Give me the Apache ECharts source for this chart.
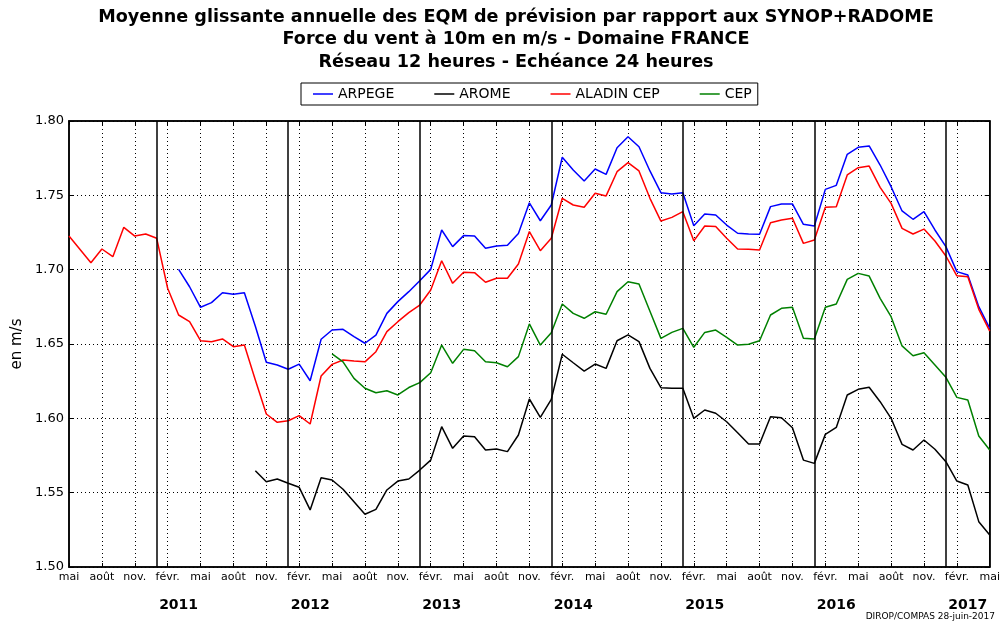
<!DOCTYPE html>
<html>
<head>
<meta charset="utf-8">
<script src="https://cdn.jsdelivr.net/npm/echarts@6/dist/echarts.min.js"></script>
<style>
html,body{margin:0;padding:0;background:#fff;}
#chart{width:1003px;height:623px;}
</style>
</head>
<body>
<div id="chart"></div>
<script>
// Months from mai 2010 (index 0) to mai 2017 (index 84)
const START_YEAR = 2010;
const START_MONTH = 4; // 0 = janvier
const N_MONTHS = 85;
const MONTH_TICK_LABELS = {1: 'févr.', 4: 'mai', 7: 'août', 10: 'nov.'};
const YEAR_LABELS = ['2011', '2012', '2013', '2014', '2015', '2016', '2017'];
const Y_TICKS = [1.50, 1.55, 1.60, 1.65, 1.70, 1.75, 1.80];

const ARPEGE = [null, null, null, null, null, null, null, null, null, null,
  1.7002, 1.6885, 1.6747, 1.6778, 1.6845, 1.6834, 1.6845, 1.6620, 1.6377, 1.6359,
  1.6330, 1.6365, 1.6253, 1.6532, 1.6594, 1.6599, 1.6550, 1.6505, 1.6560, 1.6706,
  1.6785, 1.6852, 1.6926, 1.7002, 1.7267, 1.7155, 1.7229, 1.7226, 1.7144, 1.7159,
  1.7164, 1.7244, 1.7450, 1.7329, 1.7435, 1.7756, 1.7670, 1.7596, 1.7677, 1.7641,
  1.7820, 1.7894, 1.7827, 1.7664, 1.7518, 1.7509, 1.7518, 1.7296, 1.7374, 1.7368,
  1.7300, 1.7245, 1.7240, 1.7238, 1.7424, 1.7442, 1.7442, 1.7305, 1.7294, 1.7540,
  1.7567, 1.7776, 1.7823, 1.7832, 1.7704, 1.7558, 1.7395, 1.7339, 1.7390, 1.7267,
  1.7155, 1.6987, 1.6964, 1.6751, 1.6605];

const AROME = [null, null, null, null, null, null, null, null, null, null,
  null, null, null, null, null, null, null, 1.5648, 1.5574, 1.5592,
  1.5563, 1.5536, 1.5384, 1.5601, 1.5585, 1.5523, 1.5439, 1.5355, 1.5388, 1.5518,
  1.5578, 1.5592, 1.5652, 1.5719, 1.5944, 1.5798, 1.5881, 1.5876, 1.5787, 1.5794,
  1.5776, 1.5888, 1.6130, 1.6007, 1.6128, 1.6431, 1.6374, 1.6318, 1.6365, 1.6336,
  1.6522, 1.6561, 1.6516, 1.6336, 1.6206, 1.6202, 1.6202, 1.6000, 1.6056, 1.6034,
  1.5977, 1.5903, 1.5827, 1.5827, 1.6011, 1.6004, 1.5937, 1.5719, 1.5697, 1.5892,
  1.5939, 1.6157, 1.6195, 1.6209, 1.6112, 1.6000, 1.5825, 1.5787, 1.5854, 1.5792,
  1.5708, 1.5578, 1.5552, 1.5305, 1.5215];

const ALADIN_CEP = [1.7226, null, 1.7047, 1.7139, 1.7087, 1.7285, 1.7226, 1.7240, 1.7211, 1.6875,
  1.6695, 1.6650, 1.6522, 1.6515, 1.6534, 1.6482, 1.6493, 1.6258, 1.6029, 1.5973,
  1.5984, 1.6018, 1.5962, 1.6285, 1.6363, 1.6392, 1.6385, 1.6380, 1.6448, 1.6583,
  1.6650, 1.6711, 1.6762, 1.6863, 1.7060, 1.6908, 1.6982, 1.6980, 1.6915, 1.6942,
  1.6942, 1.7038, 1.7256, 1.7128, 1.7211, 1.7480, 1.7435, 1.7420, 1.7514, 1.7496,
  1.7659, 1.7720, 1.7664, 1.7480, 1.7327, 1.7352, 1.7390, 1.7194, 1.7294, 1.7290,
  1.7211, 1.7139, 1.7137, 1.7132, 1.7316, 1.7334, 1.7346, 1.7177, 1.7200, 1.7420,
  1.7424, 1.7637, 1.7686, 1.7697, 1.7554, 1.7446, 1.7278, 1.7240, 1.7273, 1.7193,
  1.7092, 1.6959, 1.6953, 1.6733, 1.6587];

const CEP = [null, null, null, null, null, null, null, null, null, null,
  null, null, null, null, null, null, null, null, null, null,
  null, null, null, null, 1.6433, 1.6380, 1.6269, 1.6202, 1.6172, 1.6186,
  1.6157, 1.6207, 1.6240, 1.6307, 1.6493, 1.6370, 1.6464, 1.6455, 1.6380, 1.6374,
  1.6347, 1.6415, 1.6635, 1.6493, 1.6576, 1.6769, 1.6706, 1.6673, 1.6717, 1.6700,
  1.6852, 1.6919, 1.6904, 1.6720, 1.6538, 1.6578, 1.6605, 1.6478, 1.6578, 1.6594,
  1.6545, 1.6493, 1.6498, 1.6522, 1.6695, 1.6740, 1.6747, 1.6538, 1.6534, 1.6747,
  1.6769, 1.6935, 1.6975, 1.6957, 1.6807, 1.6684, 1.6487, 1.6421, 1.6441, 1.6359,
  1.6276, 1.6141, 1.6123, 1.5881, 1.5787];

// category keys "YYYY-MM"
const categories = [];
const monthOf = [];
const yearOf = [];
for (let i = 0; i < N_MONTHS; i++) {
  const m = (START_MONTH + i) % 12;
  const y = START_YEAR + Math.floor((START_MONTH + i) / 12);
  monthOf.push(m); yearOf.push(y);
  categories.push(y + '-' + String(m + 1).padStart(2, '0'));
}
const januaryCats = categories.filter((c, i) => monthOf[i] === 0);

const FONT = 'DejaVu Sans';
const chart = echarts.init(document.getElementById('chart'), null, {renderer: 'canvas'});

const dotted = {type: [1, 3], color: '#000', width: 1};

const lineSeries = (name, data, color, extra) => Object.assign({
  name: name, type: 'line', data: data, xAxisIndex: 0, yAxisIndex: 0,
  showSymbol: false, symbol: 'none', connectNulls: true,
  lineStyle: {color: color, width: 1.5}, itemStyle: {color: color},
  emphasis: {disabled: true}, animation: false, z: 3
}, extra || {});

chart.setOption({
  animation: false,
  backgroundColor: '#fff',
  title: {
    text: 'Moyenne glissante annuelle des EQM de prévision par rapport aux SYNOP+RADOME\nForce du vent à 10m en m/s - Domaine FRANCE\nRéseau 12 heures - Echéance 24 heures',
    left: 511, top: 1, textAlign: 'center',
    textStyle: {fontFamily: FONT, fontWeight: 'bold', fontSize: 17.6, lineHeight: 22.5, color: '#000', align: 'center'}
  },
  legend: {
    left: 301, top: 83,
    data: ['ARPEGE', 'AROME', 'ALADIN CEP', 'CEP'],
    icon: 'rect', itemWidth: 20, itemHeight: 1.5, itemGap: 40,
    padding: [4, 6, 4, 12],
    borderColor: '#000', borderWidth: 1, borderRadius: 0,
    textStyle: {fontFamily: FONT, fontSize: 14, color: '#000'},
    selectedMode: false
  },
  grid: {left: 69, right: 8, top: 121, bottom: 56, show: true, borderColor: '#000', borderWidth: 1.5, backgroundColor: 'transparent'},
  xAxis: [{
    type: 'category', data: categories, boundaryGap: false, position: 'bottom',
    axisLine: {show: true, lineStyle: {color: '#000', width: 1.5}},
    axisTick: {show: true, inside: true, length: 4, interval: (i) => i % 3 === 0, lineStyle: {color: '#000'}},
    axisLabel: {
      interval: (i) => i % 3 === 0, margin: 5,
      fontFamily: FONT, fontSize: 11, color: '#000',
      formatter: (v, i) => MONTH_TICK_LABELS[monthOf[i]] || ''
    },
    splitLine: {show: true, interval: (i) => i % 3 === 0 && i !== 0 && i !== N_MONTHS - 1, lineStyle: dotted}
  }, {
    type: 'category', data: categories, boundaryGap: false, position: 'bottom', offset: 31,
    axisLine: {show: false}, axisTick: {show: false}, splitLine: {show: false},
    axisLabel: {
      interval: (i) => monthOf[i] === 2, margin: 0,
      fontFamily: FONT, fontSize: 14, fontWeight: 'bold', color: '#000',
      formatter: (v, i) => (monthOf[i] === 2 && YEAR_LABELS.indexOf(String(yearOf[i])) >= 0) ? String(yearOf[i]) : ''
    }
  }, {
    type: 'category', data: categories, boundaryGap: false, position: 'top',
    axisLine: {show: true, lineStyle: {color: '#000', width: 1.5}},
    axisTick: {show: true, inside: true, length: 4, interval: (i) => i % 3 === 0, lineStyle: {color: '#000'}},
    axisLabel: {show: false}, splitLine: {show: false}
  }],
  yAxis: [{
    type: 'value', min: Y_TICKS[0], max: Y_TICKS[Y_TICKS.length - 1], interval: 0.05,
    name: 'en m/s', nameLocation: 'middle', nameGap: 42, nameRotate: 90,
    nameTextStyle: {fontFamily: FONT, fontSize: 15, color: '#000'},
    axisLine: {show: true, lineStyle: {color: '#000', width: 1.5}},
    axisTick: {show: true, inside: true, length: 5, lineStyle: {color: '#000'}},
    axisLabel: {fontFamily: FONT, fontSize: 13, color: '#000', margin: 5, formatter: (v) => v.toFixed(2)},
    splitLine: {show: true, lineStyle: dotted}
  }, {
    type: 'value', min: Y_TICKS[0], max: Y_TICKS[Y_TICKS.length - 1], interval: 0.05, position: 'right',
    axisLine: {show: true, lineStyle: {color: '#000', width: 1.5}},
    axisTick: {show: true, inside: true, length: 5, lineStyle: {color: '#000'}},
    axisLabel: {show: false}, splitLine: {show: false}
  }],
  graphic: [{
    type: 'text', right: 8, top: 612,
    style: {text: 'DIROP/COMPAS 28-juin-2017', fontFamily: FONT, fontSize: 9, fill: '#000'}
  }],
  series: [
    lineSeries('ARPEGE', ARPEGE, '#0000ff', {
      markLine: {
        silent: true, symbol: 'none', animation: false,
        label: {show: false},
        lineStyle: {color: '#000', type: 'solid', width: 1.5},
        emphasis: {disabled: true},
        data: januaryCats.map(c => ({xAxis: c}))
      }
    }),
    lineSeries('AROME', AROME, '#000000'),
    lineSeries('ALADIN CEP', ALADIN_CEP, '#ff0000'),
    lineSeries('CEP', CEP, '#008000')
  ]
});
</script>
</body>
</html>
